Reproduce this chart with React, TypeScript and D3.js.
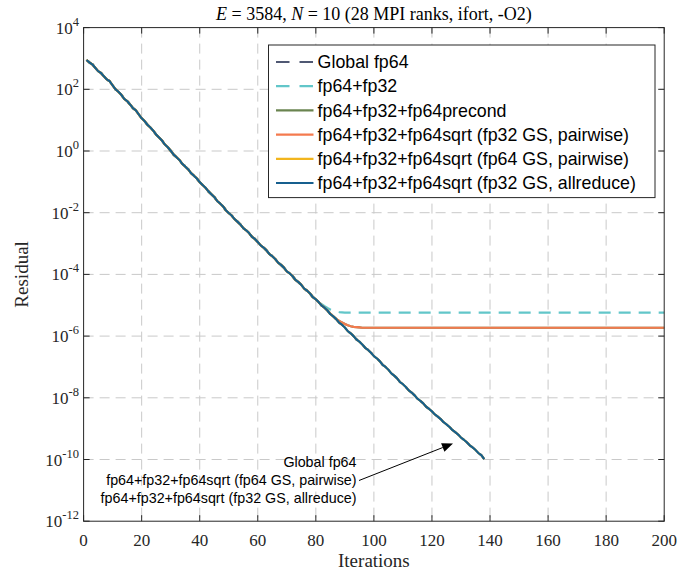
import React from "react";
import * as d3 from "d3";

// ---------- data (log10 of residual) ----------
// fp64+fp32+fp64sqrt (fp32 GS, allreduce), iterations 1..138
const allreduceLog = [
  2.95, 2.87, 2.81, 2.70, 2.59, 2.53, 2.42, 2.32, 2.26, 2.13,
  2.00, 1.92, 1.82, 1.69, 1.62, 1.51, 1.39, 1.32, 1.19, 1.06,
  0.97, 0.85, 0.76, 0.66, 0.53, 0.44, 0.34, 0.21, 0.12, 0.01,
  -0.12, -0.20, -0.29, -0.42, -0.50, -0.59, -0.72, -0.80, -0.89, -1.01,
  -1.10, -1.19, -1.31, -1.40, -1.49, -1.62, -1.70, -1.79, -1.92, -2.01,
  -2.09, -2.21, -2.29, -2.38, -2.50, -2.57, -2.66, -2.78, -2.85, -2.95,
  -3.06, -3.13, -3.22, -3.34, -3.41, -3.50, -3.62, -3.69, -3.78, -3.90,
  -3.97, -4.06, -4.18, -4.25, -4.34, -4.46, -4.53, -4.62, -4.74, -4.81,
  -4.90, -5.01, -5.08, -5.17, -5.29, -5.36, -5.45, -5.56, -5.63, -5.72,
  -5.84, -5.91, -6.00, -6.11, -6.18, -6.27, -6.38, -6.45, -6.54, -6.65,
  -6.72, -6.81, -6.93, -7.00, -7.09, -7.21, -7.28, -7.37, -7.49, -7.56,
  -7.65, -7.76, -7.83, -7.92, -8.03, -8.10, -8.18, -8.29, -8.36, -8.44,
  -8.54, -8.61, -8.69, -8.79, -8.86, -8.94, -9.04, -9.11, -9.19, -9.29,
  -9.36, -9.44, -9.54, -9.61, -9.69, -9.79, -9.86, -9.99,
];
// identical (overlapping) series
const globalFp64Log = allreduceLog;
const pairwise64Log = allreduceLog;

// fp64+fp32: follows the others until it 79, then these values from it 80..90, then flat to 200
const fp32TailStart = 80;
const fp32TailLog = [-4.80, -4.88, -4.96, -5.03, -5.09, -5.14, -5.17, -5.20, -5.22, -5.23, -5.24];
// fp64+fp32+fp64sqrt (fp32 GS, pairwise): from it 84..96, then flat
const pairwise32TailStart = 84;
const pairwise32TailLog = [-5.17, -5.27, -5.36, -5.44, -5.51, -5.56, -5.61, -5.65, -5.68, -5.70, -5.71, -5.72, -5.73];
const lastIteration = 200;

const xTicks = [0, 20, 40, 60, 80, 100, 120, 140, 160, 180, 200];
const yTickExps = [4, 2, 0, -2, -4, -6, -8, -10, -12];

const legendLabels = [
  "Global fp64",
  "fp64+fp32",
  "fp64+fp32+fp64precond",
  "fp64+fp32+fp64sqrt (fp32 GS, pairwise)",
  "fp64+fp32+fp64sqrt (fp64 GS, pairwise)",
  "fp64+fp32+fp64sqrt (fp32 GS, allreduce)",
];
const annotationLines = [
  "Global fp64",
  "fp64+fp32+fp64sqrt (fp64 GS, pairwise)",
  "fp64+fp32+fp64sqrt (fp32 GS, allreduce)",
];

// ---------- build series ----------
type P = [number, number];
const base: P[] = allreduceLog.map((v, i) => [i + 1, Math.pow(10, v)]);
const withTail = (start: number, tail: number[]): P[] => {
  const head = base.filter((p) => p[0] < start);
  const t: P[] = tail.map((v, i) => [start + i, Math.pow(10, v)]);
  return [...head, ...t, [lastIteration, Math.pow(10, tail[tail.length - 1])]];
};

const colors = ["#4f5873", "#62c6c9", "#6a8450", "#f47a4e", "#f2b51d", "#165f8e"];
const dashes = ["12,8", "12,8", null, null, null, null];

const series: P[][] = [
  globalFp64Log.map((v, i) => [i + 1, Math.pow(10, v)] as P),
  withTail(fp32TailStart, fp32TailLog),
  withTail(pairwise32TailStart, pairwise32TailLog),
  withTail(pairwise32TailStart, pairwise32TailLog),
  pairwise64Log.map((v, i) => [i + 1, Math.pow(10, v)] as P),
  base,
];

const W = 696, H = 574;
const L = 83.6, R = 664.2, T = 27.6, B = 521.2;
const serif = "'Liberation Serif', 'Times New Roman', serif";
const sans = "'Liberation Sans', Arial, sans-serif";
const axisColor = "#262626";

export default function App() {
  const x = d3.scaleLinear().domain([0, 200]).range([L, R]);
  const y = d3.scaleLog().domain([1e-12, 1e4]).range([B, T]);
  const line = d3.line<P>().x((d) => x(d[0])).y((d) => y(d[1]));

  const legX = 268.5, legY = 45, legW = 386.5, legH = 152.6;
  const rowH = 24.2, row0 = 62;

  const arrowStart: P = [359, 480.5];
  const arrowEnd: P = [453, 443.5];
  const ang = Math.atan2(arrowEnd[1] - arrowStart[1], arrowEnd[0] - arrowStart[0]);
  const ah = 11, aw = 4.5;
  const hx = arrowEnd[0] - ah * Math.cos(ang), hy = arrowEnd[1] - ah * Math.sin(ang);
  const head = `${arrowEnd[0]},${arrowEnd[1]} ${hx + aw * Math.sin(ang)},${hy - aw * Math.cos(ang)} ${hx - aw * Math.sin(ang)},${hy + aw * Math.cos(ang)}`;

  return (
    <svg width={W} height={H} style={{ position: "fixed", left: 0, top: 0, background: "#fff" }}>
      <rect x={0} y={0} width={W} height={H} fill="#fff" />
      {/* grid */}
      <g stroke="#c9c9c9" strokeWidth={1} strokeDasharray="10,6">
        {xTicks.slice(1, -1).map((t) => (
          <line key={"gx" + t} x1={x(t)} x2={x(t)} y1={T} y2={B} />
        ))}
        {yTickExps.slice(1, -1).map((e) => (
          <line key={"gy" + e} x1={L} x2={R} y1={y(Math.pow(10, e))} y2={y(Math.pow(10, e))} />
        ))}
      </g>
      {/* series */}
      <g fill="none" strokeWidth={2.2} strokeLinejoin="round">
        {series.map((s, i) => (
          <path key={i} d={line(s) || ""} stroke={colors[i]} strokeDasharray={dashes[i] || undefined} />
        ))}
      </g>
      {/* axes box and ticks */}
      <rect x={L} y={T} width={R - L} height={B - T} fill="none" stroke={axisColor} strokeWidth={1} />
      <g stroke={axisColor} strokeWidth={1}>
        {xTicks.map((t) => (
          <g key={"tx" + t}>
            <line x1={x(t)} x2={x(t)} y1={B} y2={B - 6} />
            <line x1={x(t)} x2={x(t)} y1={T} y2={T + 6} />
          </g>
        ))}
        {yTickExps.map((e) => (
          <g key={"ty" + e}>
            <line x1={L} x2={L + 6} y1={y(Math.pow(10, e))} y2={y(Math.pow(10, e))} />
            <line x1={R} x2={R - 6} y1={y(Math.pow(10, e))} y2={y(Math.pow(10, e))} />
          </g>
        ))}
      </g>
      {/* tick labels */}
      <g fontFamily={serif} fontSize={17} fill="#262626">
        {xTicks.map((t) => (
          <text key={"lx" + t} x={x(t)} y={B + 25} textAnchor="middle">{t}</text>
        ))}
        {yTickExps.map((e) => (
          <text key={"ly" + e} x={79} y={y(Math.pow(10, e)) + 6} textAnchor="end">
            10<tspan dy={-8} fontSize={12.5}>{e}</tspan>
          </text>
        ))}
      </g>
      {/* axis labels and title */}
      <text x={(L + R) / 2} y={567} textAnchor="middle" fontFamily={serif} fontSize={19} fill="#262626">Iterations</text>
      <text transform={`translate(28,${(T + B) / 2}) rotate(-90)`} textAnchor="middle" fontFamily={serif} fontSize={19} fill="#262626">Residual</text>
      <text x={(L + R) / 2} y={20} textAnchor="middle" fontFamily={serif} fontSize={18} fill="#000">
        <tspan fontStyle="italic">E</tspan> = 3584, <tspan fontStyle="italic">N</tspan> = 10 (28 MPI ranks, ifort, -O2)
      </text>
      {/* legend */}
      <rect x={legX} y={legY} width={legW} height={legH} fill="#fff" stroke={axisColor} strokeWidth={1} />
      {legendLabels.map((lab, i) => (
        <g key={"lg" + i}>
          <line x1={276} x2={313.5} y1={row0 + i * rowH} y2={row0 + i * rowH} stroke={colors[i]} strokeWidth={2.2}
            strokeDasharray={dashes[i] ? "13.5,10" : undefined} />
          <text x={317.6} y={row0 + i * rowH} dy="0.35em" fontFamily={sans} fontSize={17.8} fill="#000">{lab}</text>
        </g>
      ))}
      {/* annotation */}
      <g fontFamily={sans} fontSize={14.3} fill="#000" textAnchor="end">
        {annotationLines.map((t, i) => (
          <text key={"an" + i} x={356.5} y={467 + i * 18}>{t}</text>
        ))}
      </g>
      <line x1={arrowStart[0]} y1={arrowStart[1]} x2={hx} y2={hy} stroke="#000" strokeWidth={1} />
      <polygon points={head} fill="#000" />
    </svg>
  );
}
